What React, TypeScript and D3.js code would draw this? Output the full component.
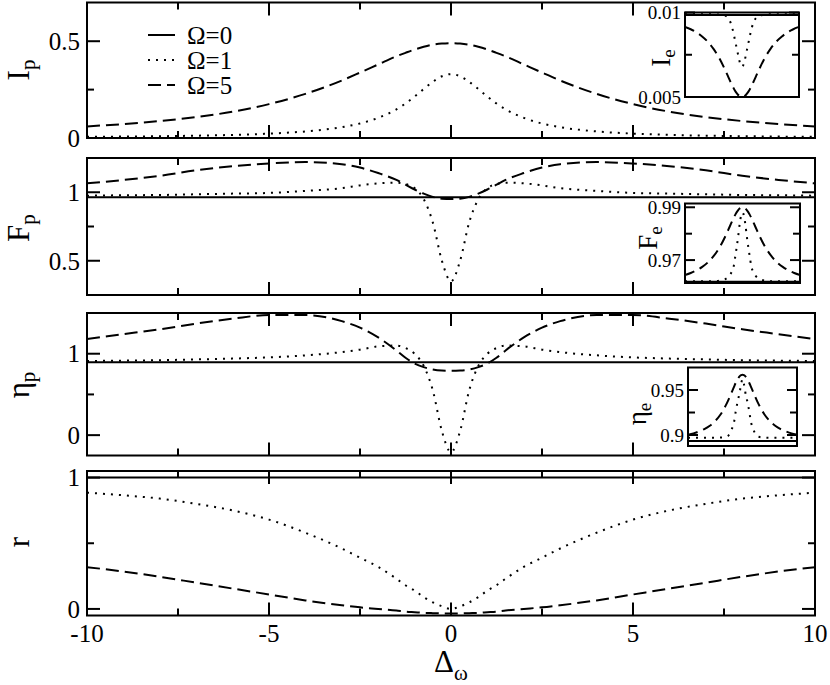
import React from 'react';
import * as d3 from 'd3';

// ---------- data ----------
const xs = [-10,-9,-8,-7,-6,-5,-4,-3,-2.5,-2,-1.5,-1.25,-1,-0.75,-0.5,-0.25,0,0.25,0.5,0.75,1,1.25,1.5,2,2.5,3,4,5,6,7,8,9,10];
const xsFlat = [-10, 10];

const legendLabels = ['Ω=0', 'Ω=1', 'Ω=5'];
const xTickLabels = ['-10', '-5', '0', '5', '10'];

// Panel 1: I_p
const Ip0 = [0, 0];
const Ip1 = [0.006,0.0073,0.0092,0.012,0.016,0.0226,0.034,0.056,0.075,0.104,0.148,0.178,0.214,0.253,0.29,0.319,0.33,0.319,0.29,0.253,0.214,0.178,0.148,0.104,0.075,0.056,0.034,0.0226,0.016,0.012,0.0092,0.0073,0.006];
const Ip5 = [0.060,0.072,0.0875,0.108,0.136,0.175,0.228,0.297,0.338,0.380,0.422,0.44,0.457,0.471,0.482,0.488,0.49,0.488,0.482,0.471,0.457,0.44,0.422,0.380,0.338,0.297,0.228,0.175,0.136,0.108,0.0875,0.072,0.060];

// Panel 2: F_p
const Fp0 = [0.963, 0.963];
const Fp1 = [0.975,0.978,0.98,0.985,0.99,0.995,1.01,1.03,1.05,1.065,1.07,1.06,1.03,0.95,0.78,0.5,0.35,0.5,0.78,0.95,1.03,1.06,1.07,1.065,1.05,1.03,1.01,0.995,0.99,0.985,0.98,0.978,0.975];
const Fp5 = [1.065,1.09,1.12,1.16,1.19,1.21,1.22,1.205,1.18,1.14,1.09,1.055,1.02,0.99,0.966,0.953,0.95,0.953,0.966,0.99,1.02,1.055,1.09,1.14,1.18,1.205,1.22,1.21,1.19,1.16,1.12,1.09,1.065];

// Panel 3: eta_p
const Etap0 = [0.894, 0.894];
const Etap1 = [0.91,0.915,0.92,0.93,0.94,0.955,0.98,1.02,1.05,1.09,1.1,1.07,1.0,0.85,0.55,0.05,-0.21,0.05,0.55,0.85,1.0,1.07,1.1,1.09,1.05,1.02,0.98,0.955,0.94,0.93,0.92,0.915,0.91];
const Etap5 = [1.18,1.24,1.3,1.37,1.43,1.475,1.475,1.4,1.32,1.2,1.04,0.95,0.88,0.835,0.806,0.793,0.79,0.793,0.806,0.835,0.88,0.95,1.04,1.2,1.32,1.4,1.475,1.475,1.43,1.37,1.3,1.24,1.18];

// Panel 4: r
const R0 = [1, 1];
const R1 = [0.885,0.865,0.84,0.8,0.75,0.68,0.58,0.46,0.39,0.32,0.23,0.18,0.14,0.09,0.05,0.02,0,0.02,0.05,0.09,0.14,0.18,0.23,0.32,0.39,0.46,0.58,0.68,0.75,0.8,0.84,0.865,0.885];
const R5 = [0.318,0.285,0.245,0.2,0.155,0.11,0.065,0.028,0.012,0.0,-0.012,-0.02,-0.025,-0.03,-0.032,-0.034,-0.035,-0.034,-0.032,-0.03,-0.025,-0.02,-0.012,0.0,0.012,0.028,0.065,0.11,0.155,0.2,0.245,0.285,0.318];

// Inset: I_e
const Ie0 = [0.00985, 0.00985];
const Ie1 = [0.0099,0.0099,0.0099,0.0099,0.0099,0.0099,0.00987,0.00982,0.0097,0.0094,0.0088,0.0084,0.008,0.0076,0.0072,0.0069,0.0068,0.0069,0.0072,0.0076,0.008,0.0084,0.0088,0.0094,0.0097,0.00982,0.00987,0.0099,0.0099,0.0099,0.0099,0.0099,0.0099];
const Ie5 = [0.00915,0.00901,0.00883,0.00858,0.00827,0.00785,0.00731,0.00663,0.00626,0.00589,0.00554,0.00539,0.00526,0.00515,0.00507,0.00502,0.005,0.00502,0.00507,0.00515,0.00526,0.00539,0.00554,0.00589,0.00626,0.00663,0.00731,0.00785,0.00827,0.00858,0.00883,0.00901,0.00915];

// Inset: F_e
const Fe0 = [0.9618, 0.9618];
const Fe1 = [0.962,0.962,0.962,0.962,0.962,0.962,0.9622,0.9628,0.9635,0.965,0.968,0.9715,0.975,0.979,0.9835,0.9868,0.988,0.9868,0.9835,0.979,0.975,0.9715,0.968,0.965,0.9635,0.9628,0.9622,0.962,0.962,0.962,0.962,0.962,0.962];
const Fe5 = [0.96435,0.96511,0.9661,0.96741,0.96918,0.97156,0.97477,0.97894,0.98132,0.98378,0.98615,0.98722,0.98816,0.98893,0.98952,0.98988,0.99,0.98988,0.98952,0.98893,0.98816,0.98722,0.98615,0.98378,0.98132,0.97894,0.97477,0.97156,0.96918,0.96741,0.9661,0.96511,0.96435];

// Inset: eta_e
const Etae0 = [0.8933, 0.8933];
const Etae1 = [0.897,0.897,0.897,0.897,0.897,0.897,0.8972,0.898,0.9,0.906,0.916,0.926,0.934,0.941,0.948,0.957,0.962,0.957,0.948,0.941,0.934,0.926,0.916,0.906,0.9,0.898,0.8972,0.897,0.897,0.897,0.897,0.897,0.897];
const Etae5 = [0.9003,0.9018,0.9039,0.9066,0.9103,0.9156,0.9231,0.9337,0.9402,0.9473,0.9544,0.9578,0.9608,0.9634,0.9654,0.9666,0.967,0.9666,0.9654,0.9634,0.9608,0.9578,0.9544,0.9473,0.9402,0.9337,0.9231,0.9156,0.9103,0.9066,0.9039,0.9018,0.9003];

// ---------- layout ----------
const W = 830, H = 685;
const X0 = 87, X1 = 815;
const FONT = "'Liberation Serif', 'DejaVu Serif', 'Times New Roman', Times, serif";

type Kind = 'solid' | 'dot' | 'dash';
type Series = { x: number[]; y: number[]; k: Kind };

const lineStyle = (k: Kind, inset: boolean) => {
  if (k === 'solid') return { strokeDasharray: undefined as string | undefined };
  if (k === 'dot') return { strokeDasharray: '2,6' };
  return { strokeDasharray: inset ? '10,6' : '13,6' };
};

const Curves: React.FC<{ id: string; series: Series[]; xs: d3.ScaleLinear<number, number>; ys: d3.ScaleLinear<number, number>; inset?: boolean }> = ({ id, series, xs: sx, ys: sy, inset }) => {
  const [r0, r1] = sx.range();
  const [b, t] = sy.range();
  return (
    <g>
      <defs>
        <clipPath id={id}>
          <rect x={r0} y={t} width={r1 - r0} height={b - t} />
        </clipPath>
      </defs>
      <g clipPath={`url(#${id})`}>
        {series.map((s, i) => {
          const gen = d3.line<number>().x((_, j) => sx(s.x[j])).y((v) => sy(v)).curve(d3.curveMonotoneX);
          const st = lineStyle(s.k, !!inset);
          return <path key={i} d={gen(s.y) || ''} fill="none" stroke="#000" strokeWidth={2} strokeDasharray={st.strokeDasharray} />;
        })}
      </g>
    </g>
  );
};

type PanelDef = {
  id: string;
  top: number; bottom: number;
  domain: [number, number];
  major: number[]; minor: number[];
  labels: string[];
  series: Series[];
  title: string; sub: string; titleY: number;
  xLabels?: boolean;
};

const Panel: React.FC<{ p: PanelDef }> = ({ p }) => {
  const sx = d3.scaleLinear().domain([-10, 10]).range([X0, X1]);
  const sy = d3.scaleLinear().domain(p.domain).range([p.bottom, p.top]);
  const xMajor = [-10, -5, 0, 5, 10];
  const xMinor = [-7.5, -2.5, 2.5, 7.5];
  const ML = 13, MN = 7;
  return (
    <g>
      <Curves id={`clip-${p.id}`} series={p.series} xs={sx} ys={sy} />
      {xMajor.map((v) => (
        <g key={'xM' + v}>
          <line x1={sx(v)} x2={sx(v)} y1={p.bottom} y2={p.bottom - ML} stroke="#000" strokeWidth={2} />
          <line x1={sx(v)} x2={sx(v)} y1={p.top} y2={p.top + ML} stroke="#000" strokeWidth={2} />
        </g>
      ))}
      {xMinor.map((v) => (
        <g key={'xm' + v}>
          <line x1={sx(v)} x2={sx(v)} y1={p.bottom} y2={p.bottom - MN} stroke="#000" strokeWidth={2} />
          <line x1={sx(v)} x2={sx(v)} y1={p.top} y2={p.top + MN} stroke="#000" strokeWidth={2} />
        </g>
      ))}
      {p.major.map((v) => (
        <g key={'yM' + v}>
          <line x1={X0} x2={X0 + ML} y1={sy(v)} y2={sy(v)} stroke="#000" strokeWidth={2} />
          <line x1={X1} x2={X1 - ML} y1={sy(v)} y2={sy(v)} stroke="#000" strokeWidth={2} />
        </g>
      ))}
      {p.minor.map((v) => (
        <g key={'ym' + v}>
          <line x1={X0} x2={X0 + MN} y1={sy(v)} y2={sy(v)} stroke="#000" strokeWidth={2} />
          <line x1={X1} x2={X1 - MN} y1={sy(v)} y2={sy(v)} stroke="#000" strokeWidth={2} />
        </g>
      ))}
      {p.major.map((v, i) => (
        <text key={'yl' + v} x={80} y={sy(v)} dy="0.35em" textAnchor="end" fontSize={25} style={{ fontFamily: FONT }}>{p.labels[i]}</text>
      ))}
      {p.xLabels && xMajor.map((v, i) => (
        <text key={'xl' + v} x={sx(v)} y={642} textAnchor="middle" fontSize={25} style={{ fontFamily: FONT }}>{xTickLabels[i]}</text>
      ))}
      <rect x={X0} y={p.top} width={X1 - X0} height={p.bottom - p.top} fill="none" stroke="#000" strokeWidth={2} />
      <text transform={`translate(29,${p.titleY}) rotate(-90)`} textAnchor="middle" fontSize={31} style={{ fontFamily: FONT }}>
        {p.title}<tspan dy={6} fontSize={21}>{p.sub}</tspan>
      </text>
    </g>
  );
};

type InsetDef = {
  id: string;
  left: number; right: number; top: number; bottom: number;
  domain: [number, number];
  major: number[]; minor: number[];
  labels: string[];
  series: Series[];
  title: string; sub: string; titleY: number; titleX: number;
  labelX: number;
};

const Inset: React.FC<{ p: InsetDef }> = ({ p }) => {
  const sx = d3.scaleLinear().domain([-10, 10]).range([p.left, p.right]);
  const sy = d3.scaleLinear().domain(p.domain).range([p.bottom, p.top]);
  const ML = 10, MN = 7;
  return (
    <g>
      <rect x={p.left} y={p.top} width={p.right - p.left} height={p.bottom - p.top} fill="#fff" />
      <Curves id={`clip-${p.id}`} series={p.series} xs={sx} ys={sy} inset />
      {p.major.map((v) => (
        <g key={'M' + v}>
          <line x1={p.left} x2={p.left + ML} y1={sy(v)} y2={sy(v)} stroke="#000" strokeWidth={2} />
          <line x1={p.right} x2={p.right - ML} y1={sy(v)} y2={sy(v)} stroke="#000" strokeWidth={2} />
        </g>
      ))}
      {p.minor.map((v) => (
        <g key={'m' + v}>
          <line x1={p.left} x2={p.left + MN} y1={sy(v)} y2={sy(v)} stroke="#000" strokeWidth={2} />
          <line x1={p.right} x2={p.right - MN} y1={sy(v)} y2={sy(v)} stroke="#000" strokeWidth={2} />
        </g>
      ))}
      {p.major.map((v, i) => (
        <text key={'l' + v} x={p.labelX} y={sy(v)} dy="0.35em" textAnchor="end" fontSize={19} style={{ fontFamily: FONT }}>{p.labels[i]}</text>
      ))}
      <rect x={p.left} y={p.top} width={p.right - p.left} height={p.bottom - p.top} fill="none" stroke="#000" strokeWidth={2} />
      <text transform={`translate(${p.titleX},${p.titleY}) rotate(-90)`} textAnchor="middle" fontSize={27} style={{ fontFamily: FONT }}>
        {p.title}<tspan dy={5} fontSize={19}>{p.sub}</tspan>
      </text>
    </g>
  );
};

const panels: PanelDef[] = [
  { id: 'ip', top: 2.5, bottom: 138, domain: [0, 0.7], major: [0, 0.5], minor: [0.25], labels: ['0', '0.5'],
    series: [{ x: xsFlat, y: Ip0, k: 'solid' }, { x: xs, y: Ip1, k: 'dot' }, { x: xs, y: Ip5, k: 'dash' }],
    title: 'I', sub: 'p', titleY: 70 },
  { id: 'fp', top: 158, bottom: 295, domain: [0.25, 1.25], major: [0.5, 1], minor: [0.75], labels: ['0.5', '1'],
    series: [{ x: xsFlat, y: Fp0, k: 'solid' }, { x: xs, y: Fp1, k: 'dot' }, { x: xs, y: Fp5, k: 'dash' }],
    title: 'F', sub: 'p', titleY: 228 },
  { id: 'etap', top: 313, bottom: 455.5, domain: [-0.25, 1.5], major: [0, 1], minor: [0.5], labels: ['0', '1'],
    series: [{ x: xsFlat, y: Etap0, k: 'solid' }, { x: xs, y: Etap1, k: 'dot' }, { x: xs, y: Etap5, k: 'dash' }],
    title: 'η', sub: 'p', titleY: 385 },
  { id: 'r', top: 471, bottom: 615.5, domain: [-0.05, 1.05], major: [0, 1], minor: [0.5], labels: ['0', '1'],
    series: [{ x: xsFlat, y: R0, k: 'solid' }, { x: xs, y: R1, k: 'dot' }, { x: xs, y: R5, k: 'dash' }],
    title: 'r', sub: '', titleY: 542, xLabels: true },
];

const insets: InsetDef[] = [
  { id: 'ie', left: 685, right: 799, top: 12.5, bottom: 97, domain: [0.005, 0.01], major: [0.005, 0.01], minor: [0.0075], labels: ['0.005', '0.01'],
    series: [{ x: xsFlat, y: Ie0, k: 'solid' }, { x: xs, y: Ie1, k: 'dot' }, { x: xs, y: Ie5, k: 'dash' }],
    title: 'I', sub: 'e', titleY: 58, titleX: 670, labelX: 681 },
  { id: 'fe', left: 685, right: 800, top: 203.5, bottom: 283, domain: [0.96132, 0.99143], major: [0.97, 0.99], minor: [0.98], labels: ['0.97', '0.99'],
    series: [{ x: xsFlat, y: Fe0, k: 'solid' }, { x: xs, y: Fe1, k: 'dot' }, { x: xs, y: Fe5, k: 'dash' }],
    title: 'F', sub: 'e', titleY: 238, titleX: 657, labelX: 681 },
  { id: 'etae', left: 688, right: 797, top: 367.5, bottom: 446, domain: [0.8878, 0.975], major: [0.9, 0.95], minor: [0.925], labels: ['0.9', '0.95'],
    series: [{ x: xsFlat, y: Etae0, k: 'solid' }, { x: xs, y: Etae1, k: 'dot' }, { x: xs, y: Etae5, k: 'dash' }],
    title: 'η', sub: 'e', titleY: 414, titleX: 646, labelX: 684 },
];

const legendKinds: Kind[] = ['solid', 'dot', 'dash'];
const legendY = [35, 60, 85];

export default function App() {
  return (
    <svg width={W} height={H} viewBox={`0 0 ${W} ${H}`} style={{ position: 'absolute', left: 0, top: 0, background: '#fff' }}>
      <rect x={0} y={0} width={W} height={H} fill="#fff" />
      {panels.map((p) => <Panel key={p.id} p={p} />)}
      {insets.map((p) => <Inset key={p.id} p={p} />)}
      {legendLabels.map((l, i) => (
        <g key={l}>
          <line x1={148} x2={175} y1={legendY[i]} y2={legendY[i]} stroke="#000" strokeWidth={2} strokeDasharray={lineStyle(legendKinds[i], false).strokeDasharray} />
          <text x={187} y={legendY[i]} dy="0.35em" fontSize={25} style={{ fontFamily: FONT }}>{l}</text>
        </g>
      ))}
      <text x={451} y={672} textAnchor="middle" fontSize={31} style={{ fontFamily: FONT }}>
        Δ<tspan dy={8} fontSize={21}>ω</tspan>
      </text>
    </svg>
  );
}
